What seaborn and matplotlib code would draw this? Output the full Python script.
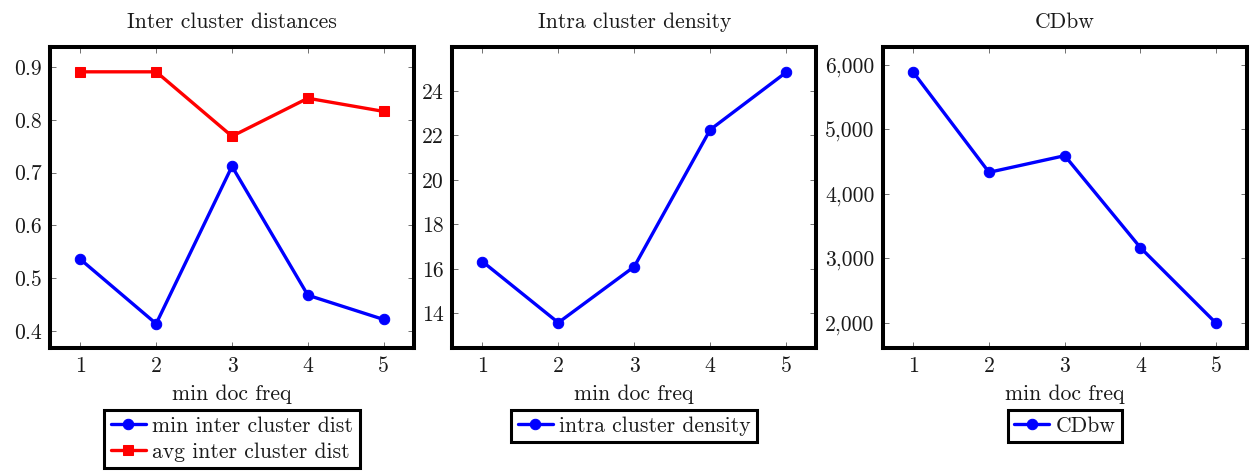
import matplotlib
matplotlib.use("Agg")
import matplotlib.pyplot as plt
import seaborn as sns
from matplotlib.ticker import FixedLocator, StrMethodFormatter

# --- data -------------------------------------------------------------
min_doc_freq = [1, 2, 3, 4, 5]

min_inter_cluster_dist = [0.536, 0.414, 0.712, 0.468, 0.422]
avg_inter_cluster_dist = [0.891, 0.891, 0.769, 0.841, 0.816]
intra_cluster_density = [16.33, 13.58, 16.10, 22.26, 24.84]
cdbw_values = [5887, 4336, 4594, 3167, 1995]

inter_yticks = [0.4, 0.5, 0.6, 0.7, 0.8, 0.9]
intra_yticks = [14, 16, 18, 20, 22, 24]
cdbw_yticks = [2000, 3000, 4000, 5000, 6000]

titles = ["Inter cluster distances", "Intra cluster density", "CDbw"]
x_label = "min doc freq"

# --- style ------------------------------------------------------------
sns.set_theme(style="white")
plt.rcParams["font.family"] = ["cmr10", "DejaVu Serif"]
plt.rcParams["mathtext.fontset"] = "cm"
plt.rcParams["axes.formatter.use_mathtext"] = True
plt.rcParams["axes.unicode_minus"] = False

FS = 15.6
LW = 2.4
MS = 7.5

fig = plt.figure(figsize=(12.59, 4.73), dpi=100)
W, H = 1259, 473
boxes = [(50, 414), (452, 816.5), (883, 1246.5)]
top_px, bot_px = 47, 348
axes = []
for l, r in boxes:
    axes.append(fig.add_axes([l / W, (H - bot_px) / H, (r - l) / W,
                              (bot_px - top_px) / H]))


def style_axes(ax, title, yticks, ylim, fmt):
    ax.set_xlim(0.6, 5.4)
    ax.set_ylim(*ylim)
    ax.xaxis.set_major_locator(FixedLocator(min_doc_freq))
    ax.yaxis.set_major_locator(FixedLocator(yticks))
    ax.yaxis.set_major_formatter(StrMethodFormatter(fmt))
    ax.xaxis.set_major_formatter(StrMethodFormatter("{x:.0f}"))
    ax.tick_params(axis="both", which="both", direction="in", length=4.5,
                   width=0.6, color="0.35", labelsize=FS, labelcolor="0.1",
                   pad=6, top=True, right=True, bottom=True, left=True)
    for s in ax.spines.values():
        s.set_linewidth(2.9)
        s.set_color("black")
    ax.set_title(title, fontsize=FS, pad=11, va="bottom", color="0.1")
    ax.set_xlabel(x_label, fontsize=FS, labelpad=6, color="0.1")
    ax.set_ylabel("")
    leg = ax.legend(loc="upper center", bbox_to_anchor=(0.5, -0.205),
                    frameon=True, fancybox=False, edgecolor="black",
                    framealpha=1, fontsize=FS, handlelength=1.6,
                    handletextpad=0.3, borderpad=0.3, labelspacing=0.3,
                    borderaxespad=0)
    leg.get_frame().set_linewidth(2.2)
    for t in leg.get_texts():
        t.set_color("0.1")


# Panel 1: inter cluster distances
ax = axes[0]
sns.lineplot(x=min_doc_freq, y=min_inter_cluster_dist, ax=ax, color="blue",
             marker="o", markersize=MS, markeredgecolor="blue",
             linewidth=LW, label="min inter cluster dist")
sns.lineplot(x=min_doc_freq, y=avg_inter_cluster_dist, ax=ax, color="red",
             marker="s", markersize=MS - 0.5, markeredgecolor="red",
             linewidth=LW, label="avg inter cluster dist")
style_axes(ax, titles[0], inter_yticks, (0.368, 0.938), "{x:.1f}")

# Panel 2: intra cluster density
ax = axes[1]
sns.lineplot(x=min_doc_freq, y=intra_cluster_density, ax=ax, color="blue",
             marker="o", markersize=MS, markeredgecolor="blue",
             linewidth=LW, label="intra cluster density")
style_axes(ax, titles[1], intra_yticks, (12.44, 25.98), "{x:.0f}")

# Panel 3: CDbw
ax = axes[2]
sns.lineplot(x=min_doc_freq, y=cdbw_values, ax=ax, color="blue",
             marker="o", markersize=MS, markeredgecolor="blue",
             linewidth=LW, label="CDbw")
style_axes(ax, titles[2], cdbw_yticks, (1612, 6279), "{x:,.0f}")

fig.savefig("out.png", dpi=100, facecolor="white")
